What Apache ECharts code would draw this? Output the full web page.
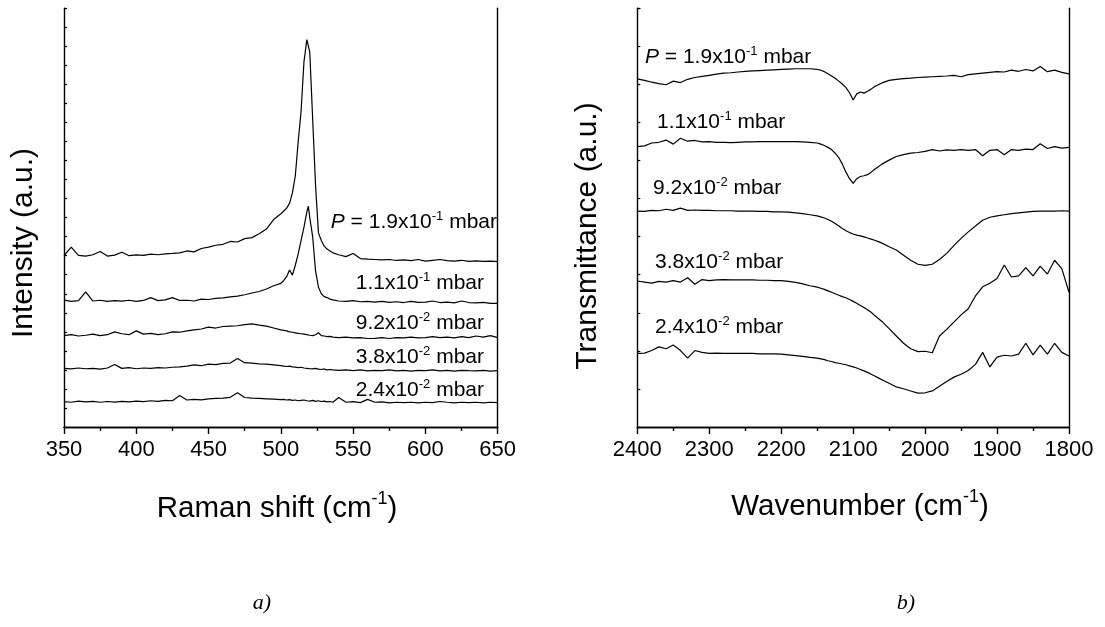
<!DOCTYPE html>
<html><head><meta charset="utf-8">
<script src="https://cdn.jsdelivr.net/npm/echarts@6/dist/echarts.min.js"></script>
<style>html,body{margin:0;padding:0;background:#fff}#c{width:1105px;height:627px}</style>
</head><body><div id="c"></div>
<script>
// ---- Raman (panel a) ----
const ramanX = [350,355,360,365,370,375,380,385,390,395,400,405,410,415,420,425,430,435,440,445,450,455,460,465,470,475,480,485,490,495,500,
502,504,506,508,510,512,514,516,518,519,520,522,524,526,528,530,532,534,536,
540,545,550,555,560,565,570,575,580,585,590,595,600,605,610,615,620,625,630,635,640,645,650];
const raman19 = [9.00,9.45,9.02,8.98,9.05,9.22,8.98,9.03,9.18,9.0,9.04,9.02,9.08,9.05,9.1,9.12,9.15,9.25,9.2,9.38,9.45,9.55,9.6,9.75,9.72,9.9,9.95,10.15,10.4,10.9,11.2,
11.35,11.5,11.75,12.3,13.2,15.0,16.6,19.2,20.35,20.45,19.7,16.2,12.7,10.2,9.8,9.5,9.35,9.25,9.15,
9.05,8.95,9.12,8.85,8.82,8.8,8.78,8.8,8.75,8.78,8.74,8.8,8.72,8.76,8.8,8.74,8.72,8.76,8.7,8.73,8.7,8.72,8.69];
const raman11 = [6.67,6.6,6.64,7.1,6.62,6.66,6.6,6.64,6.61,6.66,6.6,6.65,6.8,6.64,6.68,6.8,6.65,6.66,6.62,6.72,6.7,6.76,6.78,6.84,6.88,6.95,7.04,7.12,7.25,7.42,7.55,
7.7,7.9,8.25,7.98,8.5,9.1,9.8,10.5,11.3,11.6,11.0,10.0,8.2,7.35,7.0,6.85,6.8,6.72,6.68,
6.62,6.6,6.64,6.58,6.6,6.56,6.6,6.55,6.58,6.54,6.6,6.55,6.56,6.62,6.54,6.56,6.52,6.62,6.54,6.52,6.55,6.5,6.5];
const raman92 = [4.8,4.85,4.78,4.82,4.88,4.8,4.85,5.0,4.9,4.85,5.05,4.88,4.92,4.85,4.9,5.0,4.98,5.05,5.1,5.15,5.25,5.2,5.28,5.3,5.32,5.38,5.42,5.35,5.3,5.2,5.1,
5.08,5.05,5.0,4.98,4.95,4.92,4.9,4.88,4.85,4.84,4.82,4.8,4.85,4.95,4.8,4.78,4.75,4.76,4.72,
4.7,4.72,4.68,4.7,4.65,4.66,4.7,4.65,4.7,4.68,4.72,4.68,4.7,4.75,4.7,4.72,4.68,4.75,4.7,4.78,4.72,4.8,4.7];
const raman38 = [3.08,3.05,3.1,3.06,3.08,3.04,3.1,3.28,3.08,3.12,3.06,3.1,3.08,3.12,3.1,3.14,3.16,3.2,3.26,3.22,3.3,3.28,3.34,3.36,3.6,3.38,3.36,3.32,3.3,3.26,3.22,
3.2,3.18,3.2,3.16,3.15,3.12,3.14,3.1,3.08,3.1,3.06,3.05,3.08,3.04,3.02,3.05,3.0,3.02,3.0,
2.98,3.0,2.96,3.0,2.95,2.98,2.96,3.0,2.95,2.98,2.94,2.98,2.96,3.0,2.95,2.98,2.94,2.98,2.96,2.95,2.98,2.94,2.96];
const raman24 = [1.33,1.3,1.36,1.32,1.35,1.3,1.34,1.31,1.35,1.32,1.36,1.33,1.38,1.35,1.4,1.38,1.65,1.42,1.45,1.43,1.48,1.5,1.52,1.56,1.8,1.55,1.52,1.5,1.48,1.46,1.44,
1.45,1.42,1.44,1.4,1.42,1.38,1.4,1.42,1.38,1.4,1.36,1.4,1.35,1.38,1.34,1.36,1.32,1.34,1.3,
1.55,1.3,1.33,1.28,1.45,1.3,1.32,1.27,1.3,1.28,1.3,1.27,1.3,1.28,1.34,1.3,1.27,1.3,1.28,1.3,1.27,1.3,1.28];

// ---- IR (panel b) ----
const irX = [2400,2390,2380,2370,2360,2350,2340,2330,2320,2310,2300,2290,2280,2270,2260,2250,2240,2230,2220,2210,2200,2190,2180,2170,2160,2150,
2145,2140,2135,2130,2125,2120,2115,2110,2105,2100,2095,2090,2085,2080,2075,2070,2065,2060,
2050,2040,2030,2020,2010,2000,1990,1980,1970,1960,1950,1940,1930,1920,1910,1900,1890,1880,1870,1860,1850,1840,1830,1820,1810,1800];
const ir19 = [9.56,9.52,9.47,9.43,9.40,9.5,9.46,9.55,9.6,9.63,9.66,9.69,9.72,9.73,9.75,9.77,9.78,9.79,9.8,9.81,9.82,9.83,9.84,9.84,9.84,9.82,
9.8,9.76,9.7,9.64,9.58,9.5,9.42,9.32,9.18,8.98,9.15,9.2,9.17,9.22,9.28,9.35,9.4,9.45,
9.52,9.55,9.57,9.58,9.6,9.61,9.62,9.63,9.64,9.66,9.62,9.68,9.7,9.72,9.74,9.76,9.75,9.8,9.77,9.82,9.78,9.9,9.76,9.8,9.74,9.7];
const ir11 = [7.70,7.72,7.8,7.82,7.88,7.77,7.93,7.85,7.87,7.83,7.84,7.82,7.82,7.81,7.82,7.83,7.83,7.84,7.84,7.84,7.84,7.84,7.84,7.83,7.82,7.8,
7.77,7.73,7.68,7.62,7.52,7.4,7.22,7.0,6.82,6.69,6.82,6.88,6.9,6.93,7.0,7.08,7.15,7.22,
7.33,7.43,7.48,7.52,7.54,7.57,7.62,7.58,7.61,7.6,7.62,7.6,7.62,7.45,7.6,7.62,7.48,7.62,7.6,7.63,7.62,7.78,7.65,7.7,7.66,7.68];
const ir92 = [5.93,5.92,5.95,5.94,5.98,5.95,6.01,5.95,5.96,5.95,5.95,5.94,5.94,5.94,5.93,5.93,5.93,5.92,5.92,5.91,5.91,5.9,5.88,5.86,5.83,5.8,
5.77,5.74,5.7,5.65,5.59,5.52,5.45,5.39,5.34,5.3,5.27,5.25,5.22,5.19,5.16,5.13,5.09,5.05,
4.95,4.86,4.72,4.58,4.47,4.44,4.47,4.6,4.77,4.98,5.18,5.36,5.52,5.68,5.76,5.8,5.83,5.86,5.88,5.9,5.92,5.93,5.93,5.93,5.94,5.93];
const ir38 = [4.01,3.98,3.95,4.0,3.98,4.02,3.98,4.1,3.92,4.05,4.02,4.04,4.05,4.04,4.04,4.04,4.04,4.03,4.03,4.02,4.02,4.0,3.97,3.93,3.88,3.84,
3.81,3.78,3.74,3.7,3.66,3.62,3.58,3.55,3.5,3.45,3.4,3.34,3.28,3.22,3.15,3.06,2.98,2.9,
2.7,2.5,2.3,2.15,2.07,2.08,2.04,2.5,2.68,2.88,3.08,3.25,3.6,3.85,3.95,4.08,4.45,4.12,4.15,4.38,4.15,4.42,4.2,4.58,4.35,3.7];
const ir24 = [2.02,2.03,2.1,2.2,2.15,2.25,2.1,1.89,2.1,2.05,2.02,2.03,2.02,2.02,2.02,2.02,2.02,2.01,2.01,2.01,2.0,1.98,1.96,1.94,1.91,1.89,
1.87,1.85,1.82,1.8,1.77,1.75,1.73,1.71,1.68,1.65,1.62,1.58,1.54,1.5,1.45,1.4,1.35,1.3,
1.2,1.1,1.05,0.99,0.93,0.94,0.99,1.12,1.25,1.37,1.45,1.55,1.72,2.05,1.65,1.92,1.97,1.95,2.0,2.3,1.98,2.25,2.0,2.3,2.05,1.95];

// ---- text ----
const ramanLabels = [
  {x:497, y:222, t:'{i|P} = 1.9x10{s|-1} mbar'},
  {x:484, y:283, t:'1.1x10{s|-1} mbar'},
  {x:484, y:323, t:'9.2x10{s|-2} mbar'},
  {x:484, y:357, t:'3.8x10{s|-2} mbar'},
  {x:484, y:390, t:'2.4x10{s|-2} mbar'}
];
const irLabels = [
  {x:645, y:57, t:'{i|P} = 1.9x10{s|-1} mbar'},
  {x:657, y:122, t:'1.1x10{s|-1} mbar'},
  {x:653, y:188, t:'9.2x10{s|-2} mbar'},
  {x:655, y:262, t:'3.8x10{s|-2} mbar'},
  {x:655, y:327, t:'2.4x10{s|-2} mbar'}
];

const FF = 'Liberation Sans, Arial, sans-serif';
const chart = echarts.init(document.getElementById('c'), null, {renderer:'canvas'});

function richLbl(l, align, size, supSize, raise) {
  return {
    type:'text', x:l.x, y:l.y, silent:true,
    style:{
      text:l.t, align:align, verticalAlign:'middle',
      fontSize:size, fontFamily:FF, fill:'#000',
      rich:{
        i:{fontSize:size, fontFamily:FF, fontStyle:'italic', fill:'#000'},
        s:{fontSize:supSize, fontFamily:FF, fill:'#000', padding:[0,0,raise,0]}
      }
    }
  };
}

const graphics = [];
ramanLabels.forEach(l => graphics.push(richLbl(l, 'right', 21, 13, 11)));
irLabels.forEach(l => graphics.push(richLbl(l, 'left', 21, 13, 11)));
graphics.push(richLbl({x:277, y:509, t:'Raman shift (cm{s|-1})'}, 'center', 29.5, 18, 19));
graphics.push(richLbl({x:860, y:507, t:'Wavenumber (cm{s|-1})'}, 'center', 29.5, 18, 19));
graphics.push({type:'text', x:24, y:243, rotation:Math.PI/2, silent:true,
  style:{text:'Intensity (a.u.)', align:'center', verticalAlign:'middle', fontSize:30, fontFamily:FF, fill:'#000'}});
graphics.push({type:'text', x:588, y:236, rotation:Math.PI/2, silent:true,
  style:{text:'Transmittance (a.u.)', align:'center', verticalAlign:'middle', fontSize:30, fontFamily:FF, fill:'#000'}});
graphics.push({type:'text', x:262, y:603, silent:true,
  style:{text:'a)', align:'center', verticalAlign:'middle', fontSize:22, fontFamily:'Liberation Serif, Times New Roman, serif', fontStyle:'italic', fill:'#000'}});
graphics.push({type:'text', x:906, y:603, silent:true,
  style:{text:'b)', align:'center', verticalAlign:'middle', fontSize:22, fontFamily:'Liberation Serif, Times New Roman, serif', fontStyle:'italic', fill:'#000'}});

const axLine = {show:true, lineStyle:{color:'#000', width:1.4}};
function xAx(grid, min, max, inv, pos, labels) {
  return {
    type:'value', gridIndex:grid, min:min, max:max, interval:(max-min)/6, inverse:inv, position:pos,
    axisLine:axLine,
    axisTick:{show:true, inside:pos==='top', length:7, lineStyle:{color:'#000', width:1.2}},
    minorTick:{show:true, splitNumber:2, length:4, lineStyle:{color:'#000', width:1.2}},
    axisLabel:{show:labels, color:'#000', fontSize:22, fontFamily:FF, margin:12, showMinLabel:true, showMaxLabel:true,
      formatter: v => String(Math.round(v))},
    splitLine:{show:false}, minorSplitLine:{show:false}
  };
}
function yAx(grid, max, interval, pos, ticks) {
  return {
    type:'value', gridIndex:grid, min:0, max:max, interval:interval, position:pos,
    axisLine:axLine,
    axisTick:{show:ticks, inside:true, length:3, lineStyle:{color:'#000', width:1.2}},
    axisLabel:{show:false}, splitLine:{show:false}
  };
}

function line(xs, ys, xi, yi) {
  return {
    type:'line', xAxisIndex:xi, yAxisIndex:yi, showSymbol:false, symbol:'none',
    data: xs.map((x,i) => [x, ys[i]]),
    lineStyle:{color:'#000', width:1.2}, silent:true, animation:false
  };
}

chart.setOption({
  backgroundColor:'#fff',
  animation:false,
  grid:[
    {left:64, top:8.3, width:433.7, height:418.7},
    {left:637.3, top:8.3, width:431.7, height:418.7}
  ],
  xAxis:[
    xAx(0, 350, 650, false, 'bottom', true),
    xAx(0, 350, 650, false, 'top', false),
    xAx(1, 1800, 2400, true, 'bottom', true),
    xAx(1, 1800, 2400, true, 'top', false)
  ],
  yAxis:[
    yAx(0, 22, 1, 'left', true),
    yAx(0, 22, 1, 'right', false),
    yAx(1, 11.5, 11.5/11, 'left', true),
    yAx(1, 11.5, 11.5/11, 'right', false)
  ],
  series:[
    line(ramanX, raman19, 0, 0),
    line(ramanX, raman11, 0, 0),
    line(ramanX, raman92, 0, 0),
    line(ramanX, raman38, 0, 0),
    line(ramanX, raman24, 0, 0),
    line(irX, ir19, 2, 2),
    line(irX, ir11, 2, 2),
    line(irX, ir92, 2, 2),
    line(irX, ir38, 2, 2),
    line(irX, ir24, 2, 2)
  ],
  graphic: graphics
});
</script>
</body></html>
